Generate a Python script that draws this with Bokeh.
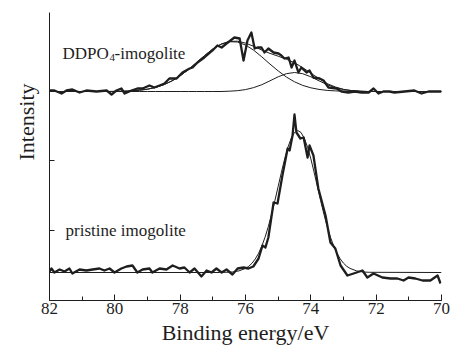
from bokeh.plotting import figure
from bokeh.models import Range1d, SingleIntervalTicker, FixedTicker, Title
from bokeh.core.properties import value
from bokeh.embed import file_html
from bokeh.resources import INLINE

# ---- data (binding energy in eV, intensity in arbitrary units) ----
top_x = [82.0, 81.85, 81.63, 81.48, 81.30, 81.08, 80.87, 80.56, 80.25, 80.10,
         79.95, 79.80, 79.70, 79.49, 79.31, 79.15, 78.94, 78.79, 78.63, 78.48,
         78.33, 78.11, 77.93, 77.71, 77.62, 77.47, 77.26, 77.01, 76.86, 76.73,
         76.58, 76.34, 76.18, 76.06, 75.94, 75.82, 75.72, 75.63, 75.51, 75.42,
         75.30, 75.14, 74.99, 74.90, 74.81, 74.68, 74.59, 74.50, 74.38, 74.29,
         74.13, 74.04, 73.92, 73.73, 73.61, 73.46, 73.21, 73.06, 72.85, 72.66,
         72.45, 72.23, 72.08, 71.93, 71.78, 71.59, 71.44, 71.13, 70.83, 70.61,
         70.40, 70.21, 70.0]
top_y = [210, 210, 207, 210, 211, 208, 210, 209, 210, 206,
         210, 212, 207, 210, 212, 212, 215, 213, 215, 217,
         222, 222, 228, 232, 233, 238, 243, 250, 255, 253,
         257, 263, 262, 240, 260, 268, 252, 253, 253, 248,
         252, 248, 247, 245, 242, 243, 233, 240, 228, 233,
         228, 230, 223, 222, 220, 213, 212, 209, 208, 209,
         208, 208, 212, 207, 209, 209, 208, 209, 210, 207,
         209, 209, 209]

top_fit_x = [82.0, 80.25, 80.0, 79.75, 79.5, 79.25, 79.0, 78.75, 78.5, 78.25,
             78.0, 77.75, 77.5, 77.25, 77.0, 76.75, 76.5, 76.25, 76.0, 75.75,
             75.5, 75.25, 75.0, 74.75, 74.5, 74.25, 74.0, 73.75, 73.5, 73.25,
             73.0, 72.75, 72.5, 72.25, 70.0]
top_peak1 = [209, 209, 209.1, 209.3, 209.6, 210.3, 211.3, 213.1, 215.8, 219.6,
             224.7, 230.9, 237.9, 245.0, 251.5, 256.3, 258.8, 258.5, 255.5, 250.3,
             243.6, 236.4, 229.6, 223.5, 218.7, 215.1, 212.7, 211.1, 210.1, 209.6,
             209.3, 209.1, 209, 209, 209]
top_peak2 = [209, 209, 209, 209, 209, 209, 209, 209, 209, 209,
             209, 209, 209, 209, 209, 209, 209.3, 209.8, 210.9, 212.9,
             215.8, 219.7, 223.7, 226.8, 228.0, 226.8, 223.7, 219.7, 215.8, 212.9,
             210.9, 209.8, 209.3, 209, 209]
top_sum = [209, 209, 209.1, 209.3, 209.6, 210.3, 211.3, 213.1, 215.8, 219.6,
           224.7, 230.9, 237.9, 245.0, 251.5, 256.3, 259.1, 259.3, 257.4, 254.2,
           250.4, 247.1, 244.3, 241.3, 237.7, 232.9, 227.4, 221.8, 216.9, 213.5,
           211.2, 209.9, 209.3, 209, 209]

bot_x = [82.0, 81.94, 81.85, 81.69, 81.54, 81.39, 81.30, 81.08, 80.87, 80.68,
         80.47, 80.32, 80.16, 80.01, 79.80, 79.64, 79.46, 79.31, 79.15, 78.94,
         78.85, 78.63, 78.42, 78.23, 78.02, 77.87, 77.71, 77.56, 77.35, 77.19,
         77.04, 76.89, 76.73, 76.58, 76.40, 76.24, 76.06, 75.91, 75.76, 75.60,
         75.48, 75.39, 75.30, 75.14, 75.02, 74.87, 74.71, 74.65, 74.56, 74.50,
         74.44, 74.32, 74.22, 74.10, 74.04, 73.92, 73.77, 73.55, 73.40, 73.25,
         73.09, 72.88, 72.69, 72.42, 72.27, 72.08, 71.81, 71.56, 71.35, 71.16,
         71.01, 70.80, 70.58, 70.34, 70.12, 70.03]
bot_y = [29, 32, 28, 31, 29, 32, 27, 31, 30, 31,
         32, 30, 32, 28, 32, 34, 35, 28, 31, 32,
         28, 32, 31, 35, 32, 33, 28, 32, 24, 30,
         28, 32, 28, 31, 26, 32, 33, 32, 34, 42,
         55, 53, 63, 98, 97, 125, 152, 150, 165, 186,
         168, 162, 163, 143, 155, 145, 112, 85, 58, 52,
         35, 25, 27, 30, 23, 27, 23, 22, 22, 20,
         23, 22, 20, 20, 25, 17]

bot_fit_x = [82.0, 77.0, 76.8, 76.6, 76.4, 76.2, 76.0, 75.9, 75.8, 75.7,
             75.6, 75.5, 75.4, 75.3, 75.2, 75.1, 75.0, 74.9, 74.8, 74.7,
             74.6, 74.5, 74.4, 74.3, 74.2, 74.1, 74.0, 73.9, 73.8, 73.7,
             73.6, 73.5, 73.4, 73.3, 73.2, 73.1, 73.0, 72.9, 72.8, 72.6,
             72.4, 72.2, 70.0]
bot_fit_y = [28, 28, 28, 28.2, 28.5, 29.6, 32.1, 34.2, 37.3, 41.6,
             47.2, 54.5, 63.4, 74.1, 86.4, 99.9, 114.1, 128.3, 141.7, 153.3,
             162.3, 168.0, 170.0, 168.0, 162.3, 153.3, 141.7, 128.3, 114.1, 99.9,
             86.4, 74.1, 63.4, 54.5, 47.2, 41.6, 37.3, 34.2, 32.1, 29.6,
             28.5, 28.2, 28]

x_ticks_interval = 2
y_ticks = [70, 140, 210]

FONT = "Liberation Serif"
INK = "#1e1e1e"

p = figure(frame_width=392, frame_height=288,
           x_range=Range1d(82, 70), y_range=Range1d(0, 288),
           output_backend="svg", toolbar_location=None,
           min_border_left=49, min_border_right=10, min_border_top=12,
           min_border_bottom=52)
p.xgrid.visible = False
p.ygrid.visible = False
p.outline_line_color = None
p.background_fill_color = "white"
p.border_fill_color = "white"

# fits (thin)
for ys in (top_peak1, top_peak2, top_sum):
    p.line(top_fit_x, ys, line_color=INK, line_width=1)
p.line(bot_fit_x, bot_fit_y, line_color=INK, line_width=1)

# measured data (thick)
p.line(top_x, top_y, line_color=INK, line_width=2.3, line_join="round")
p.line(bot_x, bot_y, line_color=INK, line_width=2.3, line_join="round")

# annotations
p.text(x=[81.6], y=[247], text=["DDPO"], text_font=value(FONT),
       text_font_size="17px", text_color=INK, text_baseline="alphabetic",
       text_align="left")
p.text(x=[81.6], y=[247], text=["4"], text_font=value(FONT),
       text_font_size="11px", text_color=INK, text_baseline="alphabetic",
       text_align="left", x_offset=47, y_offset=4)
p.text(x=[81.6], y=[247], text=["-imogolite"], text_font=value(FONT),
       text_font_size="17px", text_color=INK, text_baseline="alphabetic",
       text_align="left", x_offset=52)
p.text(x=[81.51], y=[70], text=["pristine imogolite"], text_font=value(FONT),
       text_font_size="17px", text_color=INK, text_baseline="alphabetic",
       text_align="left")

ytitle = Title(text="Intensity", align="right", offset=71,
               text_font=FONT, text_font_size="22px", text_font_style="normal",
               text_color=INK, standoff=22)
p.add_layout(ytitle, "left")

# x axis
xa = p.xaxis[0]
xa.ticker = SingleIntervalTicker(interval=x_ticks_interval, num_minor_ticks=2)
xa.axis_label = "Binding energy/eV"
xa.axis_label_text_font = FONT
xa.axis_label_text_font_size = "22px"
xa.axis_label_text_font_style = "normal"
xa.axis_label_text_color = INK
xa.axis_label_standoff = 3
xa.major_label_text_font = FONT
xa.major_label_text_font_size = "17px"
xa.major_label_text_color = INK
xa.major_label_standoff = 2
xa.major_tick_in = 6
xa.major_tick_out = 0
xa.minor_tick_in = 4
xa.minor_tick_out = 0
xa.axis_line_color = INK
xa.major_tick_line_color = INK
xa.minor_tick_line_color = INK

# y axis
ya = p.yaxis[0]
ya.ticker = FixedTicker(ticks=y_ticks)
ya.major_label_text_font_size = "0px"
ya.major_label_text_color = None
ya.major_label_standoff = 0
ya.major_tick_in = 5
ya.major_tick_out = 0
ya.minor_tick_line_color = None
ya.axis_line_color = INK
ya.major_tick_line_color = INK

open("out.html", "w").write(file_html(p, INLINE))
